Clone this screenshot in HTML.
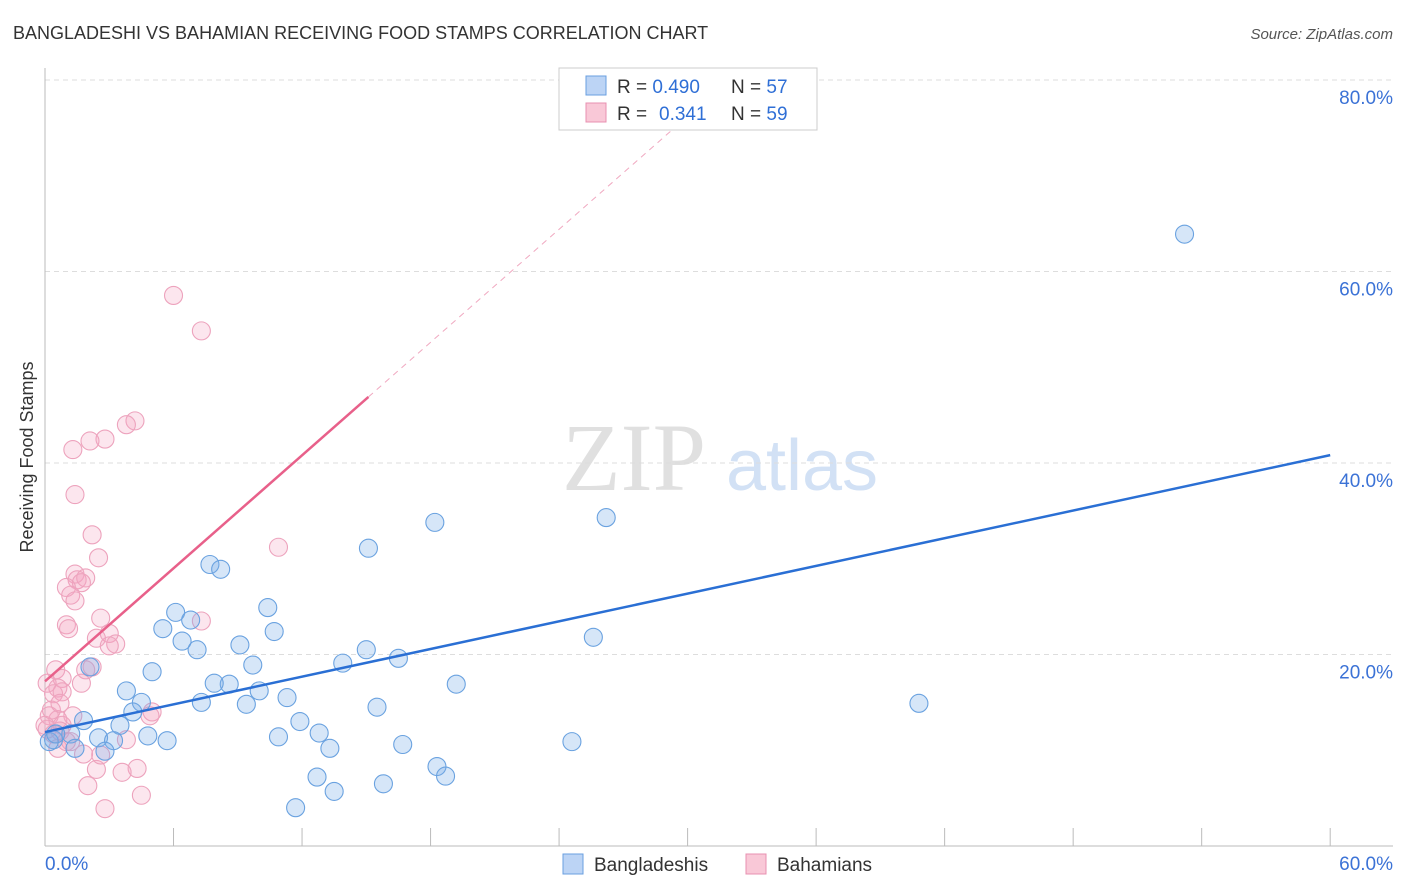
<!DOCTYPE html>
<html><head><meta charset="utf-8"><style>
body{margin:0;background:#fff;font-family:"Liberation Sans",sans-serif}
svg{display:block}
</style></head><body>
<svg width="1406" height="892">
<text x="13" y="39" font-size="18" fill="#333">BANGLADESHI VS BAHAMIAN RECEIVING FOOD STAMPS CORRELATION CHART</text>
<text x="1393" y="39" font-size="15" fill="#555" text-anchor="end" font-style="italic">Source: ZipAtlas.com</text>
<g>
<text x="634" y="490" font-size="96" font-family="Liberation Serif,serif" fill="#e0e0e0" text-anchor="middle">ZIP</text>
<text x="802" y="490" font-size="72" fill="#d2e1f5" text-anchor="middle">atlas</text>
</g>
<g id="grid"></g>
<g id="axes"></g>
<g id="marks"></g>
<text transform="translate(33,457) rotate(-90)" font-size="18" fill="#333" text-anchor="middle">Receiving Food Stamps</text>
<g>
<rect x="559" y="68" width="258" height="62" fill="#fff" stroke="#ccc"/>
<rect x="586" y="76" width="20" height="19" fill="#bcd4f5" stroke="#6a9fe0"/>
<rect x="586" y="103" width="20" height="19" fill="#f9c8d7" stroke="#e890b0"/>
<text x="617" y="93" font-size="19" fill="#333">R = <tspan fill="#2f6fd6">0.490</tspan><tspan x="731">N = </tspan><tspan fill="#2f6fd6">57</tspan></text>
<text x="617" y="120" font-size="19" fill="#333">R = <tspan x="659" fill="#2f6fd6">0.341</tspan><tspan x="731">N = </tspan><tspan fill="#2f6fd6">59</tspan></text>
</g>
<g>
<rect x="563" y="854" width="20" height="20" fill="#bcd4f5" stroke="#6a9fe0"/>
<text x="594" y="871" font-size="19" fill="#333">Bangladeshis</text>
<rect x="746" y="854" width="20" height="20" fill="#f9c8d7" stroke="#e890b0"/>
<text x="777" y="871" font-size="19" fill="#333">Bahamians</text>
</g>
</svg>
<script>
const yTicks=[20,40,60,80];
const yTickLabels=["20.0%","40.0%","60.0%","80.0%"];
const xTicks=[0,6,12,18,24,30,36,42,48,54,60];
const blueX=[53.2,26.2,18.2,15.1,7.7,8.2,25.6,10.4,6.1,6.8,5.5,6.4,7.1,10.7,9.1,15.0,16.5,9.7,13.9,5.0,19.2,2.1,8.6,3.8,7.9,10.0,11.3,40.8,7.3,4.5,9.4,15.5,4.1,1.8,11.9,3.5,12.8,4.8,5.7,2.5,0.4,1.2,10.9,24.6,3.2,16.7,13.3,2.8,1.4,18.3,18.7,12.7,15.8,13.5,11.7,0.2,0.5];
const blueY=[63.9,34.3,33.8,31.1,29.4,28.9,21.8,24.9,24.4,23.6,22.7,21.4,20.5,22.4,21.0,20.5,19.6,18.9,19.1,18.2,16.9,18.7,16.9,16.2,17.0,16.2,15.5,14.9,15.0,15.0,14.8,14.5,14.0,13.1,13.0,12.6,11.8,11.5,11.0,11.3,11.1,11.7,11.4,10.9,11.0,10.6,10.2,9.9,10.2,8.3,7.3,7.2,6.5,5.7,4.0,10.9,11.7];
const pinkX=[6.0,7.3,4.2,3.8,2.8,2.1,1.3,1.4,2.2,2.5,10.9,1.4,1.5,1.9,1.7,1.0,1.2,1.4,1.0,1.1,2.6,7.3,3.0,2.4,3.3,3.0,2.2,1.9,0.5,0.8,0.1,0.6,0.4,0.8,1.7,5.0,4.9,1.3,0.2,0.6,0.0,0.1,0.8,0.4,0.7,1.0,0.6,1.8,3.8,2.4,4.3,3.6,2.0,4.5,2.8,1.2,0.3,2.6,0.7];
const pinkY=[57.5,53.8,44.4,44.0,42.5,42.3,41.4,36.7,32.5,30.1,31.2,28.4,27.8,28.0,27.5,27.0,26.2,25.6,23.1,22.7,23.8,23.5,22.2,21.7,21.1,20.9,18.7,18.4,18.4,17.5,17.0,16.5,15.9,16.1,17.0,14.0,13.6,13.6,13.6,13.2,12.6,12.2,12.6,11.7,12.0,10.9,10.2,9.6,11.1,8.0,8.1,7.7,6.3,5.3,3.9,10.9,14.2,9.5,14.9];
const blueLine=[11.9,0.482];
const pinkLine=[17.2,1.967];
const X=v=>45+v*21.42, Y=v=>846-v*9.575;
const NS="http://www.w3.org/2000/svg";
function mk(tag,attrs,parent){const e=document.createElementNS(NS,tag);for(const k in attrs)e.setAttribute(k,attrs[k]);parent.appendChild(e);return e;}
const grid=document.getElementById('grid'),axes=document.getElementById('axes'),marks=document.getElementById('marks');
yTicks.forEach((t,i)=>{
 const l=mk('line',{x1:45,x2:1393,y1:Y(t),y2:Y(t),stroke:'#ddd','stroke-dasharray':'5,4'},grid);
 
 
 const tx=mk('text',{x:1393,y:Y(t)+24,'font-size':19,fill:'#3b72d6','text-anchor':'end'},axes);
 tx.textContent=yTickLabels[i];
 
 
});
const ax=mk('line',{x1:45,x2:1393,y1:846,y2:846,stroke:'#bbb'},axes);


const ay=mk('line',{x1:45,x2:45,y1:68,y2:846,stroke:'#bbb'},axes);


xTicks.forEach(t=>{if(t===0)return;
 const l=mk('line',{x1:X(t),x2:X(t),y1:828,y2:846,stroke:'#bbb'},axes);
 
 
});
[[0,'0.0%','start',45],[60,'60.0%','end',1393]].forEach(a=>{
 const tx=mk('text',{x:a[3],y:870,'font-size':19,fill:'#3b72d6','text-anchor':a[2]},axes);
 tx.textContent=a[1];
 
 
});
pinkX.forEach((x,i)=>{
 const c=mk('circle',{cx:X(x),cy:Y(pinkY[i]),r:9,fill:'rgba(244,165,195,0.28)',stroke:'#eda3bd','stroke-width':1.1},marks);
 
 
});
blueX.forEach((x,i)=>{
 const c=mk('circle',{cx:X(x),cy:Y(blueY[i]),r:9,fill:'rgba(120,172,232,0.3)',stroke:'#6aa2e0','stroke-width':1.1},marks);
 
 
});
const bl=mk('line',{x1:X(0),y1:Y(blueLine[0]),x2:X(60),y2:Y(blueLine[0]+60*blueLine[1]),stroke:'#2a6fd4','stroke-width':2.5},marks);


const pl=mk('line',{x1:X(0),y1:Y(pinkLine[0]),x2:X(15.1),y2:Y(pinkLine[0]+15.1*pinkLine[1]),stroke:'#e8608a','stroke-width':2.5},marks);


const pd=mk('line',{x1:X(15.1),y1:Y(pinkLine[0]+15.1*pinkLine[1]),x2:X(29.6),y2:Y(pinkLine[0]+29.6*pinkLine[1]),stroke:'#f0a8c0','stroke-width':1,'stroke-dasharray':'6,5'},marks);


</script>
</body></html>
